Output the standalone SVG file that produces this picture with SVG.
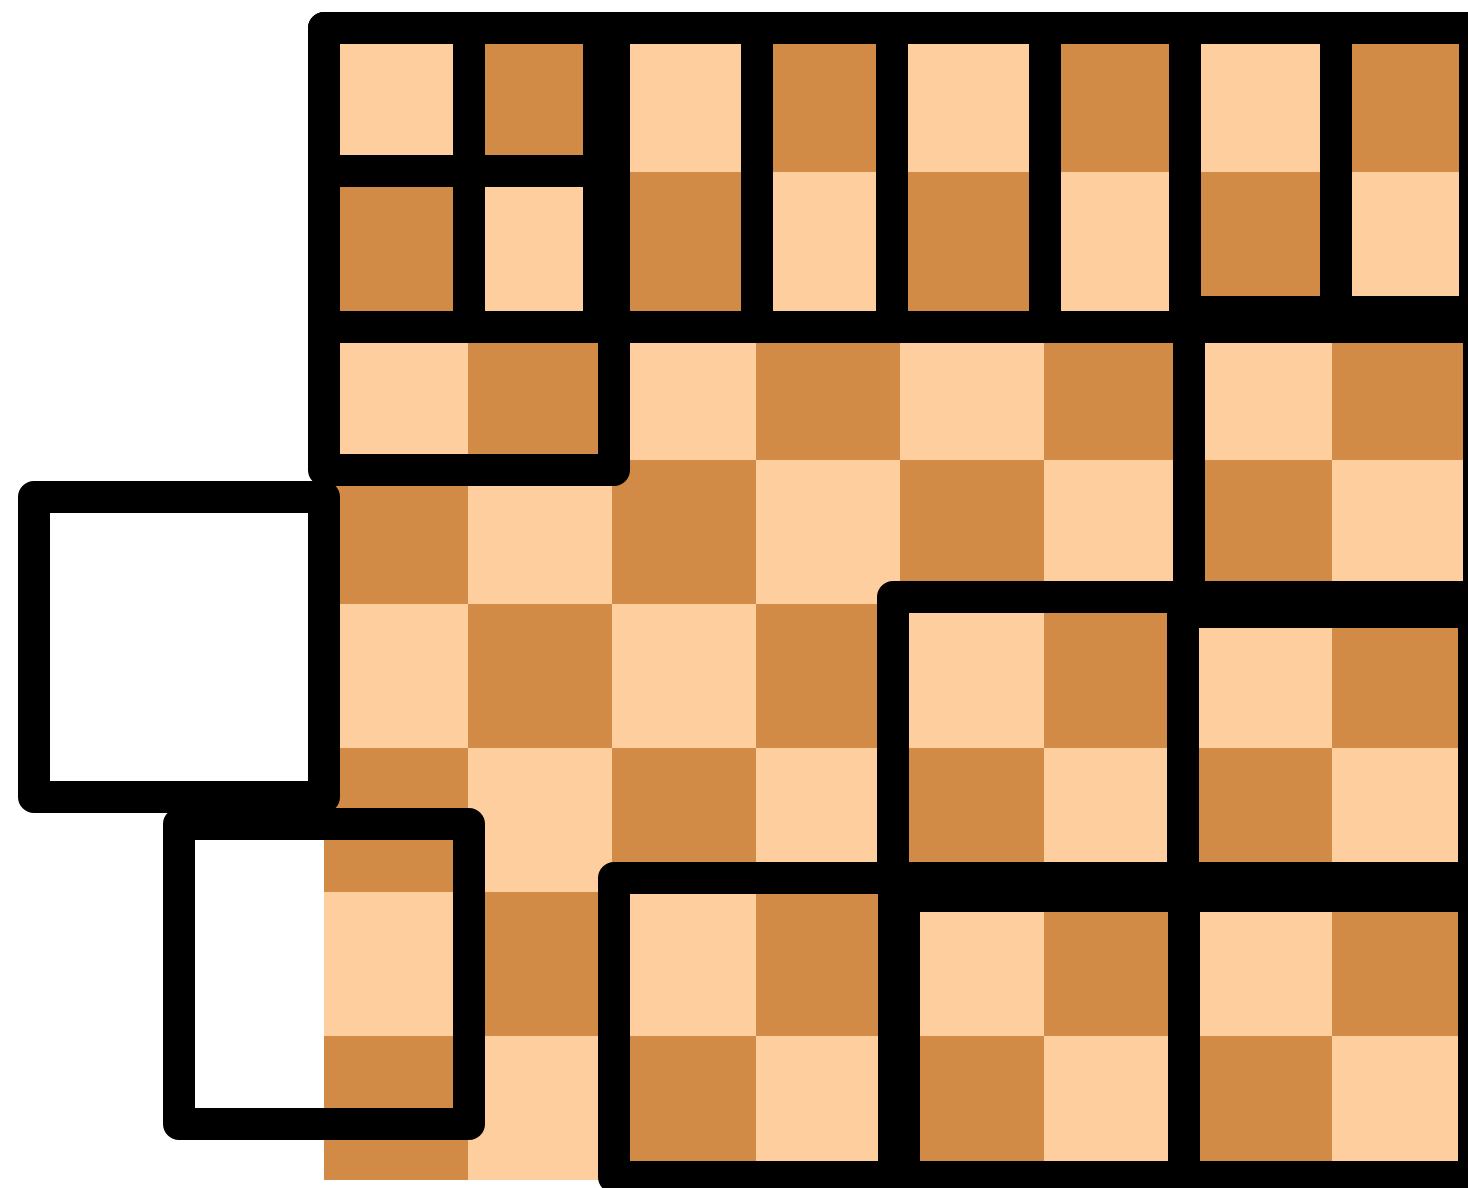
<svg xmlns="http://www.w3.org/2000/svg" width="1468" height="1188" viewBox="0 0 1468 1188">
  <defs>
    <pattern id="board" patternUnits="userSpaceOnUse" x="324" y="28" width="288" height="288">
      <rect x="0" y="0" width="288" height="288" fill="#FECE9F"/>
      <rect x="144" y="0" width="144" height="144" fill="#D18B47"/>
      <rect x="0" y="144" width="144" height="144" fill="#D18B47"/>
    </pattern>
  </defs>
  <style>
    .box { fill: none; stroke: #000; stroke-width: 32; stroke-linejoin: round; }
  </style>
  <rect x="0" y="0" width="1468" height="1188" fill="#fff"/>
  <rect id="chessboard" x="324" y="28" width="1152" height="1152" fill="url(#board)"/>
  <g id="nodes">
    <g id="quad-tl"><rect class="box" x="324" y="28" width="145" height="143"/></g>
    <g id="quad-tr"><rect class="box" x="469" y="28" width="130" height="143"/></g>
    <g id="quad-bl"><rect class="box" x="324" y="171" width="145" height="156"/></g>
    <g id="quad-br"><rect class="box" x="469" y="171" width="130" height="156"/></g>
    <g id="block-a"><rect class="box" x="324" y="28" width="290" height="442"/></g>
    <g id="top-1"><rect class="box" x="614" y="28" width="143" height="299"/></g>
    <g id="top-2"><rect class="box" x="757" y="28" width="135" height="299"/></g>
    <g id="top-3"><rect class="box" x="892" y="28" width="153" height="299"/></g>
    <g id="top-4"><rect class="box" x="1045" y="28" width="140" height="299"/></g>
    <g id="top-5"><rect class="box" x="1185" y="28" width="151" height="284"/></g>
    <g id="top-6"><rect class="box" x="1336" y="28" width="139" height="284"/></g>
    <g id="block-m"><rect class="box" x="1189" y="327" width="290" height="270"/></g>
    <g id="block-p"><rect class="box" x="893" y="597" width="290" height="281"/></g>
    <g id="block-q"><rect class="box" x="1183" y="612" width="291" height="266"/></g>
    <g id="block-s"><rect class="box" x="614" y="878" width="280" height="299"/></g>
    <g id="block-t1"><rect class="box" x="904" y="896" width="280" height="281"/></g>
    <g id="block-t2"><rect class="box" x="1184" y="896" width="290" height="281"/></g>
    <g id="empty-1"><rect class="box" x="34" y="497" width="290" height="300"/></g>
    <g id="empty-2"><rect class="box" x="179" y="824" width="290" height="300"/></g>
  </g>
  <g id="connectors"/>
</svg>
